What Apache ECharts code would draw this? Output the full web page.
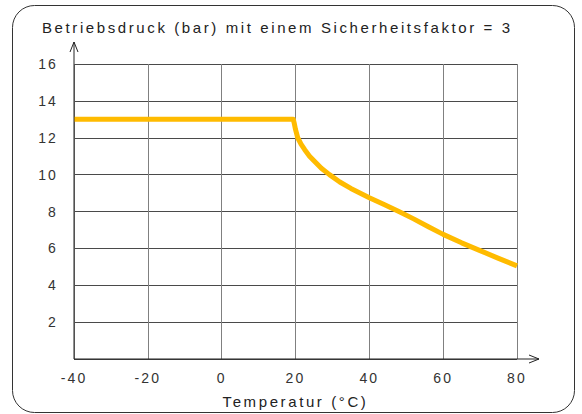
<!DOCTYPE html>
<html><head><meta charset="utf-8">
<script src="https://cdn.jsdelivr.net/npm/echarts@6/dist/echarts.min.js"></script>
<style>
html,body{margin:0;padding:0;background:#fff}
#c{width:582px;height:414px}
#c svg text{letter-spacing:2.1px}
#c svg text[style*="15px"]{letter-spacing:2.6px}
</style>
</head><body><div id="c"></div>
<script>
var titleText = 'Betriebsdruck (bar) mit einem Sicherheitsfaktor = 3';
var xAxisName = 'Temperatur (°C)';
var temps = [-40, 19.4, 19.7, 20, 20.6, 21.5, 22.5, 23.8, 25, 27, 29.2, 32, 35, 40, 44, 48, 52, 56, 60, 65, 70, 75, 80];
var pressure = [13, 13, 12.75, 12.45, 12.0, 11.65, 11.35, 11.0, 10.75, 10.35, 10.0, 9.6, 9.25, 8.75, 8.38, 8.0, 7.6, 7.17, 6.76, 6.3, 5.88, 5.46, 5.05];
var xMin = -40, xMax = 80, xStep = 20;
var yMin = 0, yMax = 16, yStep = 2;

var font = '"Liberation Sans", Arial, Helvetica, sans-serif';
var chart = echarts.init(document.getElementById('c'), null, {renderer: 'svg'});
var pts = temps.map(function (t, i) { return [t, pressure[i]]; });
chart.setOption({
  animation: false,
  title: {text: titleText, left: 37, top: 15, textStyle: {fontFamily: font, fontSize: 15, fontWeight: 'normal', color: '#222'}},
  grid: {left: 74, right: 65, top: 64, bottom: 54, containLabel: false},
  xAxis: {
    type: 'value', min: xMin, max: xMax, interval: xStep,
    name: xAxisName, nameLocation: 'middle', nameGap: 35,
    nameTextStyle: {fontFamily: font, fontSize: 15, color: '#222'},
    axisLine: {show: false},
    axisTick: {show: false},
    axisLabel: {fontFamily: font, fontSize: 14, color: '#333', margin: 12},
    splitLine: {show: true, lineStyle: {color: '#808080', width: 1}}
  },
  yAxis: {
    type: 'value', min: yMin, max: yMax, interval: yStep,
    axisLine: {show: false},
    axisTick: {show: false},
    axisLabel: {fontFamily: font, fontSize: 14, color: '#333', margin: 16,
      formatter: function (v) { return v === 0 ? '' : String(v); }},
    splitLine: {show: true, lineStyle: {color: '#4a4a4a', width: 1}}
  },
  series: [{
    type: 'line', data: pts, showSymbol: false, smooth: false,
    lineStyle: {color: '#FFBB00', width: 5, cap: 'butt', join: 'round'},
    z: 5
  }]
});
function addDeco() {
  var o = chart.convertToPixel({gridIndex: 0}, [xMin, yMin]);
  var tr = chart.convertToPixel({gridIndex: 0}, [xMax, yMax]);
  var x0 = o[0], y0 = o[1], x1 = tr[0], y1 = tr[1];
  var ax = x1 + 22, ay = y1 - 22;
  chart.setOption({graphic: [
    {type: 'rect', shape: {x: 12.5, y: 5.5, width: 562, height: 407, r: 22}, style: {fill: 'none', stroke: '#333', lineWidth: 1}, z: 0},
    {type: 'line', shape: {x1: x0, y1: y0, x2: ax, y2: y0}, style: {stroke: '#222', lineWidth: 1}, z: 10},
    {type: 'polyline', shape: {points: [[ax - 10, y0 - 4], [ax, y0], [ax - 10, y0 + 4]]}, style: {fill: 'none', stroke: '#222', lineWidth: 1}, z: 10},
    {type: 'line', shape: {x1: x0, y1: y0, x2: x0, y2: ay}, style: {stroke: '#222', lineWidth: 1}, z: 10},
    {type: 'polyline', shape: {points: [[x0 - 4, ay + 10], [x0, ay], [x0 + 4, ay + 10]]}, style: {fill: 'none', stroke: '#222', lineWidth: 1}, z: 10}
  ]});
}
addDeco();
</script></body></html>
